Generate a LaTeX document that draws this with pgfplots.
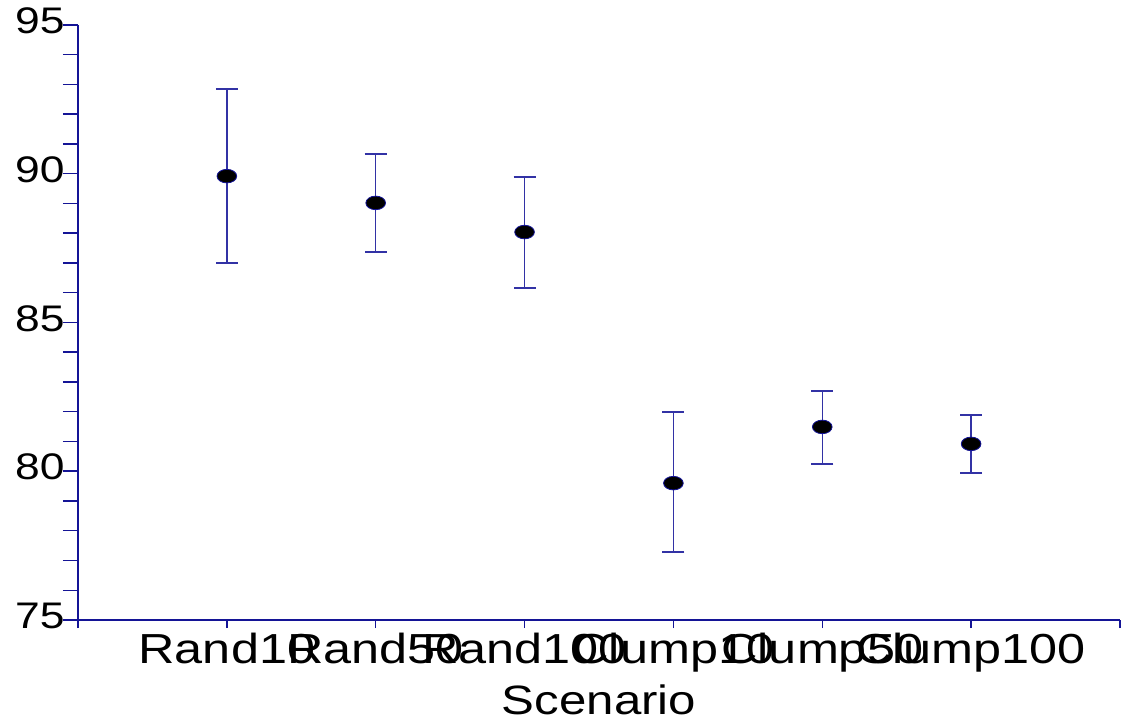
\documentclass[border=0pt]{standalone}
\usepackage{fontspec}
\setmainfont{Liberation Sans}[FakeStretch=1.2]
\usepackage{pgfplots}
\usepackage{pgfplotstable}
\pgfplotsset{compat=1.18}
\definecolor{axcol}{RGB}{20,20,150}
\definecolor{errcol}{RGB}{50,50,165}
\pgfplotstableread{
x y ep em
1 89.92 2.93 2.92
2 89.02 1.64 1.65
3 88.04 1.85 1.88
4 79.60 2.39 2.31
5 81.49 1.21 1.25
6 80.92 0.97 0.98
}\datatab
\begin{document}
\begin{tikzpicture}
\useasboundingbox (-78pt,-105pt) rectangle (1051pt,620pt);
\begin{axis}[
  at={(0,0)}, anchor=south west,
  scale only axis,
  width=1042pt, height=595pt,
  xmin=0, xmax=7, ymin=75, ymax=95,
  axis lines=left,
  axis line style={-, draw=axcol, line width=1.5pt},
  tick style={draw=axcol, line width=1.5pt},
  tick align=outside,
  xtick={0,1,2,3,4,5,6,7},
  xticklabels={,Rand10,Rand50,Rand100,Clump10,Clump50,Clump100,},
  ytick={75,80,85,90,95},
  minor y tick num=4,
  major tick length=15pt,
  minor tick length=15pt,
  x tick style={/pgfplots/major tick length=8pt},
  /pgf/number format/assume math mode=true,
  yticklabel style={font=\fontsize{37}{42}\selectfont, anchor=east, xshift=5pt, yshift=4pt},
  xticklabel style={font=\fontsize{42}{48}\selectfont, anchor=base, yshift=-28pt},
  xlabel={Scenario},
  xlabel style={font=\fontsize{41}{48}\selectfont, at={(axis description cs:0.5,0)}, anchor=base, yshift=-94pt},
  clip=false,
]
\addplot[
  only marks,
  mark=*,
  mark size=6.8pt,
  mark options={xscale=1.45, fill=black, draw=axcol, line width=0.8pt},
  error bars/.cd,
    y dir=both, y explicit,
    error mark=|,
    error bar style={draw=errcol, line width=1.3pt},
    error mark options={draw=errcol, line width=1.3pt, mark size=11pt},
] table[x=x, y=y, y error plus=ep, y error minus=em] {\datatab};
\end{axis}
\end{tikzpicture}
\end{document}
